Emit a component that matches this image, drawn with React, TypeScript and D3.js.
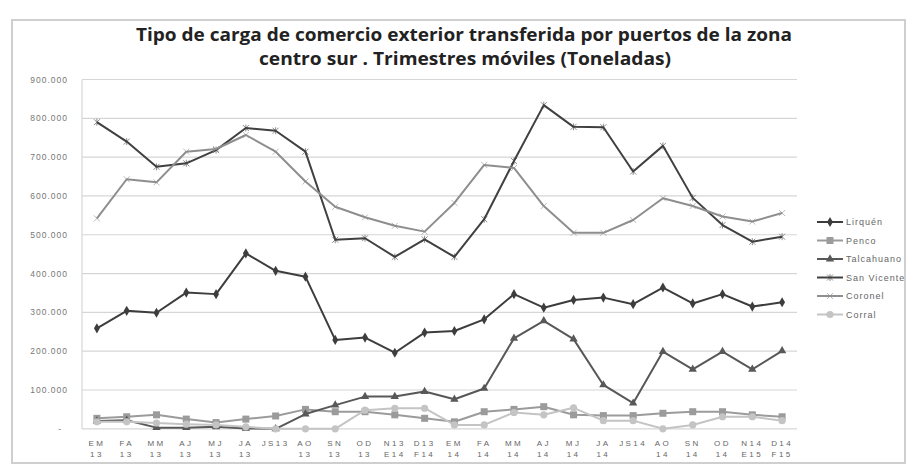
import React from "react";
import * as d3 from "d3";

const categories = [
  "EM 13", "FA 13", "MM 13", "AJ 13", "MJ 13", "JA 13", "JS13", "AO 13", "SN 13", "OD 13", "N13 E14", "D13 F14",
  "EM 14", "FA 14", "MM 14", "AJ 14", "MJ 14", "JA 14", "JS14", "AO 14", "SN 14", "OD 14", "N14 E15", "D14 F15",
];
const catLine1 = ["EM", "FA", "MM", "AJ", "MJ", "JA", "JS13", "AO", "SN", "OD", "N13", "D13",
  "EM", "FA", "MM", "AJ", "MJ", "JA", "JS14", "AO", "SN", "OD", "N14", "D14"];
const catLine2 = ["13", "13", "13", "13", "13", "13", "", "13", "13", "13", "E14", "F14",
  "14", "14", "14", "14", "14", "14", "", "14", "14", "14", "E15", "F15"];

const lirquen = [259000, 304000, 299000, 351000, 347000, 452000, 407000, 392000, 229000, 235000, 196000, 248000,
  252000, 282000, 347000, 312000, 332000, 338000, 321000, 364000, 323000, 347000, 315000, 326000];
const penco = [27000, 31000, 36000, 25000, 16000, 25000, 33000, 50000, 44000, 44000, 36000, 27000,
  18000, 44000, 50000, 57000, 36000, 34000, 34000, 40000, 44000, 44000, 36000, 31000];
const talcahuano = [20000, 22000, 3000, 3000, 5000, 1000, 0, 38000, 61000, 83000, 83000, 96000,
  76000, 104000, 233000, 278000, 231000, 113000, 66000, 199000, 153000, 199000, 153000, 201000];
const sanVicente = [790000, 740000, 675000, 684000, 718000, 775000, 768000, 714000, 487000, 491000, 443000, 488000,
  443000, 540000, 690000, 834000, 778000, 777000, 663000, 729000, 595000, 525000, 482000, 495000];
const coronel = [542000, 643000, 635000, 714000, 721000, 757000, 714000, 637000, 572000, 545000, 523000, 508000,
  582000, 680000, 672000, 574000, 505000, 505000, 538000, 594000, 574000, 547000, 534000, 556000];
const corral = [18000, 18000, 15000, 12000, 10000, 5000, 0, 0, 0, 48000, 53000, 53000,
  10000, 10000, 42000, 36000, 54000, 21000, 21000, 0, 10000, 31000, 31000, 21000];

const seriesNames = ["Lirquén", "Penco", "Talcahuano", "San Vicente", "Coronel", "Corral"];
const yTicks = [0, 100000, 200000, 300000, 400000, 500000, 600000, 700000, 800000, 900000];

const seriesData = [lirquen, penco, talcahuano, sanVicente, coronel, corral];
const seriesColors = ["#3d3d3d", "#9b9b9b", "#585858", "#404040", "#8e8e8e", "#c4c4c4"];
const seriesMarkers = ["diamond", "square", "triangle", "star", "x", "circle"];

const W = 909;
const H = 466;
const left = 82;
const right = 797;
const top = 79.5;
const bottom = 428.8;

function Marker({ type, x, y, color }: { type: string; x: number; y: number; color: string }) {
  if (type === "diamond") {
    const p = d3.symbol(d3.symbolDiamond, 30)();
    return <path d={p || ""} transform={`translate(${x},${y})`} fill={color} />;
  }
  if (type === "square") {
    return <rect x={x - 3.5} y={y - 3.5} width={7} height={7} fill={color} />;
  }
  if (type === "triangle") {
    const p = d3.symbol(d3.symbolTriangle, 30)();
    return <path d={p || ""} transform={`translate(${x},${y})`} fill={color} />;
  }
  if (type === "circle") {
    return <circle cx={x} cy={y} r={3.6} fill={color} />;
  }
  if (type === "star") {
    return (
      <g stroke={color} strokeWidth={1} opacity={0.6}>
        <line x1={x - 3} y1={y - 3} x2={x + 3} y2={y + 3} />
        <line x1={x - 3} y1={y + 3} x2={x + 3} y2={y - 3} />
        <line x1={x} y1={y - 3.5} x2={x} y2={y + 3.5} />
      </g>
    );
  }
  return (
    <g stroke={color} strokeWidth={1} opacity={0.6}>
      <line x1={x - 3} y1={y - 3} x2={x + 3} y2={y + 3} />
      <line x1={x - 3} y1={y + 3} x2={x + 3} y2={y - 3} />
    </g>
  );
}

export default function App() {
  const x = d3.scaleBand<string>().domain(categories).range([left, right]);
  const y = d3.scaleLinear().domain([0, 900000]).range([bottom, top]);
  const cx = (c: string) => (x(c) || 0) + x.bandwidth() / 2;
  const line = d3
    .line<number>()
    .x((_, i) => cx(categories[i]))
    .y((d) => y(d));
  const fmt = (v: number) => (v === 0 ? "-" : d3.format(",")(v).replace(/,/g, "."));

  return (
    <svg width={W} height={H} style={{ position: "absolute", left: 0, top: 0, background: "#fff" }}>
      <rect x={0} y={0} width={W} height={H} fill="#ffffff" />
      <rect x={12} y={20} width={893} height={443} fill="none" stroke="#cfcfcf" strokeWidth={2} />
      <text
        x={464}
        y={41}
        textAnchor="middle"
        fontFamily="'Open Sans', sans-serif"
        fontWeight="bold"
        fontSize={17}
        fill="#222"
        textLength={656}
        lengthAdjust="spacingAndGlyphs"
      >
        Tipo de carga de comercio exterior transferida por puertos de la zona
      </text>
      <text
        x={465}
        y={65}
        textAnchor="middle"
        fontFamily="'Open Sans', sans-serif"
        fontWeight="bold"
        fontSize={17}
        fill="#222"
        textLength={412}
        lengthAdjust="spacingAndGlyphs"
      >
        centro sur . Trimestres móviles (Toneladas)
      </text>

      {yTicks.map((t) => (
        <g key={t}>
          <line x1={left} x2={right} y1={y(t)} y2={y(t)} stroke="#d6d6d6" strokeWidth={1.2} />
          <text
            x={t === 0 ? 62 : 68}
            y={y(t) + 3}
            textAnchor="end"
            fontFamily="'Liberation Sans', sans-serif"
            fontSize={8.5}
            letterSpacing={1}
            fill="#777"
          >
            {fmt(t)}
          </text>
        </g>
      ))}
      <line x1={left} x2={left} y1={top} y2={bottom} stroke="#d6d6d6" strokeWidth={1.2} />

      {categories.map((c, i) => (
        <g key={c}>
          <text
            x={cx(c)}
            y={446}
            textAnchor="middle"
            fontFamily="'Liberation Sans', sans-serif"
            fontSize={8}
            letterSpacing={2.4}
            fill="#666"
          >
            {catLine1[i]}
          </text>
          <text
            x={cx(c)}
            y={457}
            textAnchor="middle"
            fontFamily="'Liberation Sans', sans-serif"
            fontSize={8}
            letterSpacing={2.4}
            fill="#666"
          >
            {catLine2[i]}
          </text>
        </g>
      ))}

      {seriesData.map((s, si) => (
        <g key={seriesNames[si]}>
          <path d={line(s) || ""} fill="none" stroke={seriesColors[si]} strokeWidth={2} strokeLinejoin="round" />
          {s.map((v, i) => (
            <Marker key={i} type={seriesMarkers[si]} x={cx(categories[i])} y={y(v)} color={seriesColors[si]} />
          ))}
        </g>
      ))}

      {seriesNames.map((n, si) => {
        const ly = 222 + si * 18.5;
        return (
          <g key={n}>
            <line x1={817} x2={843} y1={ly} y2={ly} stroke={seriesColors[si]} strokeWidth={2} />
            <Marker type={seriesMarkers[si]} x={830} y={ly} color={seriesColors[si]} />
            <text
              x={846}
              y={ly + 3}
              fontFamily="'Liberation Sans', sans-serif"
              fontSize={9}
              letterSpacing={1}
              fill="#666"
            >
              {n}
            </text>
          </g>
        );
      })}
    </svg>
  );
}
